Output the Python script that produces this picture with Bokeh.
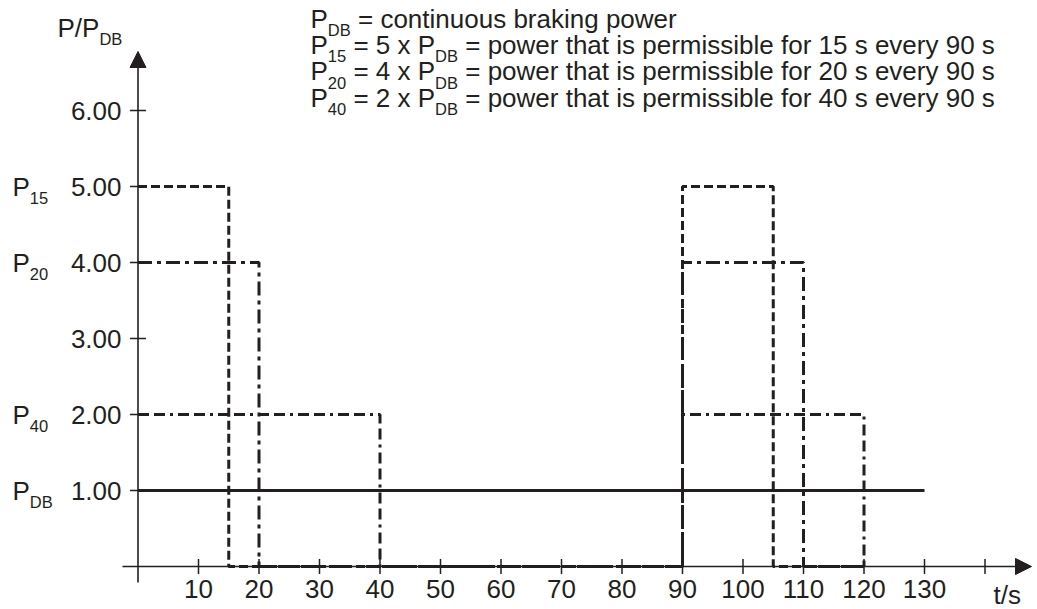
from bokeh.plotting import figure
from bokeh.models import Range1d, Arrow, NormalHead
from bokeh.core.properties import value
from bokeh.embed import file_html
from bokeh.resources import INLINE
import numpy as np

# ---- braking power profiles (P / P_DB over time in s) ----
t_p15 = [0, 15, 15, 90, 90, 105, 105, 120]
p_p15 = [5, 5, 0, 0, 5, 5, 0, 0]
t_p20 = [0, 20, 20, 90, 90, 110, 110, 120]
p_p20 = [4, 4, 0, 0, 4, 4, 0, 0]
t_p40 = [0, 40, 40, 90, 90, 120, 120]
p_p40 = [2, 2, 0, 0, 2, 2, 0]
t_pdb = [0, 130]
p_pdb = [1, 1]

# ---- axes ----
y_ticks = [1, 2, 3, 4, 5, 6]
y_tick_labels = ["1.00", "2.00", "3.00", "4.00", "5.00", "6.00"]
x_ticks = [10, 20, 30, 40, 50, 60, 70, 80, 90, 100, 110, 120, 130, 140]
x_tick_labels = ["10", "20", "30", "40", "50", "60", "70", "80", "90",
                 "100", "110", "120", "130", ""]

# level names next to the y axis: (main, subscript, level)
level_names = [("P", "15", 5), ("P", "20", 4), ("P", "40", 2), ("P", "DB", 1)]

# explanation block: list of (text, is_subscript) runs per line
legend_lines = [
    [("P", False), ("DB", True), (" = continuous braking power", False)],
    [("P", False), ("15", True), (" = 5 x P", False), ("DB", True),
     (" = power that is permissible for 15 s every 90 s", False)],
    [("P", False), ("20", True), (" = 4 x P", False), ("DB", True),
     (" = power that is permissible for 20 s every 90 s", False)],
    [("P", False), ("40", True), (" = 2 x P", False), ("DB", True),
     (" = power that is permissible for 40 s every 90 s", False)],
]

# ---- canvas geometry ----
W, H = 1037, 609
X0_PX, X_SCALE = 137.5, 6.05      # pixel of t = 0, pixels per second
Y0_PX, Y_SCALE = 566.0, 76.0      # pixel of P = 0, pixels per P_DB

INK = "#231f20"
FONT = "Liberation Sans"
F_MAIN = 26.0
F_SUB = 16.5
SUB_DROP = 8.0
BASE_FIX_EM = -9.0 / 26.0   # svg text lands this many em below the requested baseline


def xd(px):
    return (px - X0_PX) / X_SCALE


def yd(py):
    return (Y0_PX - py) / Y_SCALE


def ybase(py, size=F_MAIN):
    return yd(py + BASE_FIX_EM * size)


# Arial/Liberation Sans advance widths (per 1000 em)
ADV = {" ": 278, "=": 584, "/": 278, ".": 278, "P": 667, "D": 722, "B": 667,
       "a": 556, "b": 556, "c": 500, "d": 556, "e": 556, "f": 278, "g": 556,
       "h": 556, "i": 222, "k": 500, "l": 222, "m": 833, "n": 556, "o": 556,
       "p": 556, "r": 333, "s": 500, "t": 278, "u": 556, "v": 500, "w": 722,
       "x": 500, "y": 500}
for d in "0123456789":
    ADV[d] = 556


def text_width(s, size):
    return sum(ADV.get(ch, 556) for ch in s) * size / 1000.0


p = figure(width=W, height=H,
           x_range=Range1d(xd(0), xd(W)), y_range=Range1d(yd(H), yd(0)),
           output_backend="svg", toolbar_location=None,
           x_axis_location=None, y_axis_location=None,
           min_border=0, outline_line_color=None,
           background_fill_color="white", border_fill_color="white")
p.grid.grid_line_color = None

# ---- axis lines with arrow heads ----
p.add_layout(Arrow(x_start=xd(122), y_start=0, x_end=xd(1031), y_end=0,
                   line_color=INK, line_width=1.6,
                   end=NormalHead(size=16, fill_color=INK, line_color=INK, line_width=1)))
p.add_layout(Arrow(x_start=0, y_start=yd(582), x_end=0, y_end=yd(51),
                   line_color=INK, line_width=1.6,
                   end=NormalHead(size=16, fill_color=INK, line_color=INK, line_width=1)))

# tick marks crossing the axes
p.scatter(x=[0] * len(y_ticks), y=y_ticks, marker="dash", size=16,
          line_color=INK, line_width=1.5)
p.scatter(x=x_ticks, y=[0] * len(x_ticks), marker="dash", size=15,
          angle=np.pi / 2, line_color=INK, line_width=1.5)

# tick labels
p.text(x=[xd(121)] * len(y_ticks),
       y=[ybase(Y0_PX - v * Y_SCALE + 9.3) for v in y_ticks],
       text=y_tick_labels, text_align="right", text_baseline="alphabetic",
       text_font=value(FONT), text_font_size=f"{F_MAIN}px", text_color=INK)
p.text(x=x_ticks, y=[ybase(597)] * len(x_ticks), text=x_tick_labels,
       text_align="center", text_baseline="alphabetic",
       text_font=value(FONT), text_font_size=f"{F_MAIN}px", text_color=INK)

# ---- rich text helper (main runs + lowered subscripts) ----
main_x, main_y, main_t = [], [], []
sub_x, sub_y, sub_t = [], [], []


def rich(x_px, base_px, runs):
    cx = x_px
    for s, is_sub in runs:
        size = F_SUB if is_sub else F_MAIN
        lead = len(s) - len(s.lstrip(" "))
        start = cx + text_width(s[:lead], size)
        if is_sub:
            sub_x.append(xd(start))
            sub_y.append(ybase(base_px + SUB_DROP, F_SUB))
            sub_t.append(s.strip())
        else:
            main_x.append(xd(start))
            main_y.append(ybase(base_px, F_MAIN))
            main_t.append(s.strip())
        cx += text_width(s, size)


rich(57, 36, [("P/P", False), ("DB", True)])
rich(993, 603, [("t/s", False)])
for main, sub, lvl in level_names:
    rich(12, Y0_PX - lvl * Y_SCALE + 9.3, [(main, False), (sub, True)])
for i, runs in enumerate(legend_lines):
    rich(310, 27 + 26.4 * i, runs)

p.text(x=main_x, y=main_y, text=main_t, text_align="left", text_baseline="alphabetic",
       text_font=value(FONT), text_font_size=f"{F_MAIN}px", text_color=INK)
p.text(x=sub_x, y=sub_y, text=sub_t, text_align="left", text_baseline="alphabetic",
       text_font=value(FONT), text_font_size=f"{F_SUB}px", text_color=INK)

# ---- power profiles ----
p.line(t_p40, p_p40, line_color=INK, line_width=3, line_dash="11 5 11 5 3 5")
p.line(t_p20, p_p20, line_color=INK, line_width=3, line_dash="14 5 4 5")
p.line(t_p15, p_p15, line_color=INK, line_width=3, line_dash="9 4")
p.line(t_pdb, p_pdb, line_color=INK, line_width=3)

open("out.html", "w").write(file_html(p, INLINE))
